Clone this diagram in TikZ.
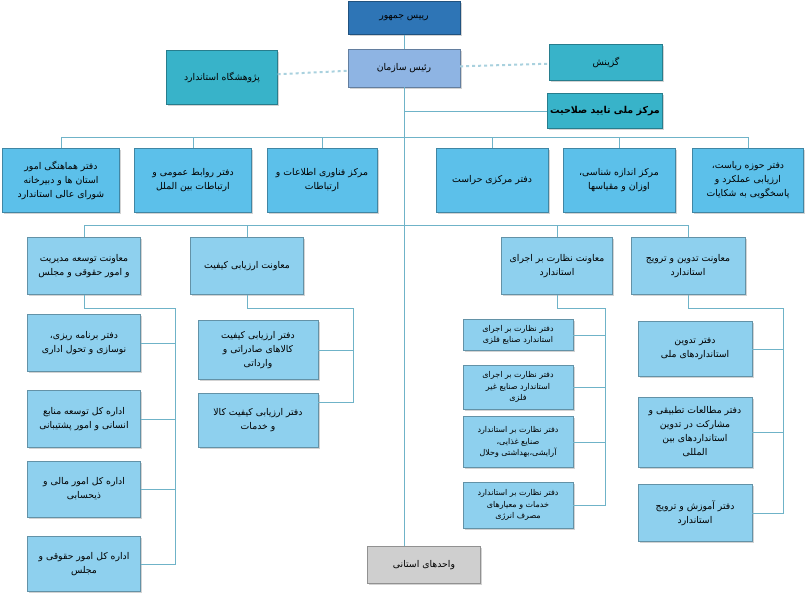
\documentclass[tikz,border=0pt]{standalone}
\usepackage{fontspec}
\newfontfamily\arabicfont[Script=Arabic]{DejaVu Sans}
\TeXXeTstate=1
\usetikzlibrary{positioning,shadows}
\newcommand{\fa}[1]{{\arabicfont\beginR #1\endR}}
\definecolor{topblue}{HTML}{2E75B6}
\definecolor{headblue}{HTML}{8EB4E3}
\definecolor{tealbox}{HTML}{38B3C9}
\definecolor{skybox}{HTML}{5CC0EA}
\definecolor{palebox}{HTML}{8ED0EE}
\definecolor{greybox}{HTML}{CFCFCF}
\definecolor{wirecol}{HTML}{6FB3C8}
\tikzset{
  box/.style={draw=#1!70!black, fill=#1, rectangle, align=center, inner sep=2pt,
    font=\fontsize{9.3}{14}\selectfont, drop shadow={opacity=0.35, shadow xshift=1.5pt, shadow yshift=-1.5pt}},
  small/.style={font=\fontsize{8}{11.5}\selectfont},
  wire/.style={draw=wirecol, line width=0.8pt},
}
\begin{document}
\begin{tikzpicture}[x=1pt,y=-1pt]
	\useasboundingbox (0,0) rectangle (805,611);
	% top of the chart
	\node[box=topblue, minimum width=112, minimum height=33] (pres) at (404,18) {\fa{رییس جمهور}};
	\node[box=headblue, minimum width=112, minimum height=38] (head) at (404,68) {\fa{رئیس سازمان}};
	\node[box=tealbox, minimum width=111, minimum height=54] (inst) at (222,77) {\fa{پژوهشگاه استاندارد}};
	\node[box=tealbox, minimum width=113, minimum height=36] (select) at (606,62) {\fa{گزینش}};
	\node[box=tealbox, minimum width=115, minimum height=35, font=\fontsize{9.5}{12}\selectfont\bfseries] (nac) at (605,111) {\fa{مرکز ملی تایید صلاحیت}};
	\node[box=greybox, minimum width=113, minimum height=37] (prov) at (424,565) {\fa{واحدهای استانی}};
	
	\draw[wire] (pres) -- (head);
	\draw[wirecol!60, line width=2pt, dashed] (inst) -- (head);
	\draw[wirecol!60, line width=2pt, dashed] (head) -- (select);
	\draw[wire] (head.south) -- (head.south |- prov.north);
	\draw[wire] (head.south |- nac.west) -- (nac.west);
	
	% offices under the head
	\node[box=skybox, minimum width=117, minimum height=64] (o1) at (61,180) {\fa{دفتر هماهنگی امور}\\\fa{استان ها و دبیرخانه}\\\fa{شورای عالی استاندارد}};
	\node[box=skybox, minimum width=117, minimum height=64] (o2) at (193,180) {\fa{دفتر روابط عمومی و}\\\fa{ارتباطات بین الملل}};
	\node[box=skybox, minimum width=110, minimum height=64] (o3) at (322,180) {\fa{مرکز فناوری اطلاعات و}\\\fa{ارتباطات}};
	\node[box=skybox, minimum width=112, minimum height=64] (o4) at (492,180) {\fa{دفتر مرکزی حراست}};
	\node[box=skybox, minimum width=112, minimum height=64] (o5) at (619,180) {\fa{مرکز اندازه شناسی،}\\\fa{اوزان و مقیاسها}};
	\node[box=skybox, minimum width=111, minimum height=64] (o6) at (748,180) {\fa{دفتر حوزه ریاست،}\\\fa{ارزیابی عملکرد و}\\\fa{پاسخگویی به شکایات}};
	\draw[wire] (o1.north) |- (o6.north |- 0,137) -- (o6.north);
	\foreach \n in {o2,o3,o4,o5}
		\draw[wire] (\n.north) -- (\n.north |- 0,137);
	
	% deputies
	\node[box=palebox, minimum width=113, minimum height=57] (d1) at (84,266) {\fa{معاونت توسعه مدیریت}\\\fa{و امور حقوقی و مجلس}};
	\node[box=palebox, minimum width=113, minimum height=57] (d2) at (247,266) {\fa{معاونت ارزیابی کیفیت}};
	\node[box=palebox, minimum width=111, minimum height=57] (d3) at (557,266) {\fa{معاونت نظارت بر اجرای}\\\fa{استاندارد}};
	\node[box=palebox, minimum width=114, minimum height=57] (d4) at (688,266) {\fa{معاونت تدوین و ترویج}\\\fa{استاندارد}};
	\draw[wire] (d1.north) |- (d4.north |- 0,225) -- (d4.north);
	\foreach \n in {d2,d3}
		\draw[wire] (\n.north) -- (\n.north |- 0,225);
	
	% management group
	\node[box=palebox, minimum width=113, minimum height=57] (m1) at (84,343) {\fa{دفتر برنامه ریزی،}\\\fa{نوسازی و تحول اداری}};
	\node[box=palebox, minimum width=113, minimum height=57] (m2) at (84,419) {\fa{اداره کل توسعه منابع}\\\fa{انسانی و امور پشتیبانی}};
	\node[box=palebox, minimum width=113, minimum height=56] (m3) at (84,489) {\fa{اداره کل امور مالی و}\\\fa{ذیحسابی}};
	\node[box=palebox, minimum width=113, minimum height=55] (m4) at (84,564) {\fa{اداره کل امور حقوقی و}\\\fa{مجلس}};
	\draw[wire] (d1.south) |- (175,308) |- (m4.east);
	\foreach \n in {m1,m2,m3}
		\draw[wire] (\n.east) -- (\n.east -| 175,0);
	
	% quality group
	\node[box=palebox, minimum width=120, minimum height=59] (q1) at (258,350) {\fa{دفتر ارزیابی کیفیت}\\\fa{کالاهای صادراتی و}\\\fa{وارداتی}};
	\node[box=palebox, minimum width=120, minimum height=54] (q2) at (258,420) {\fa{دفتر ارزیابی کیفیت کالا}\\\fa{و خدمات}};
	\draw[wire] (d2.south) |- (353,308) -- (353,402) -- (318,402);
	\draw[wire] (q1.east) -- (q1.east -| 353,0);
	
	% supervision group
	\node[box=palebox, small, minimum width=110, minimum height=31] (s1) at (518,335) {\fa{دفتر نظارت بر اجرای}\\\fa{استاندارد صنایع فلزی}};
	\node[box=palebox, small, minimum width=110, minimum height=44] (s2) at (518,387) {\fa{دفتر نظارت بر اجرای}\\\fa{استاندارد صنایع غیر}\\\fa{فلزی}};
	\node[box=palebox, small, minimum width=110, minimum height=51] (s3) at (518,442) {\fa{دفتر نظارت بر استاندارد}\\\fa{صنایع غذایی،}\\\fa{آرایشی،بهداشتی وحلال}};
	\node[box=palebox, small, minimum width=110, minimum height=46] (s4) at (518,505) {\fa{دفتر نظارت بر استاندارد}\\\fa{خدمات و معیارهای}\\\fa{مصرف انرژی}};
	\draw[wire] (d3.south) |- (605,308) |- (s4.east);
	\foreach \n in {s1,s2,s3}
		\draw[wire] (\n.east) -- (\n.east -| 605,0);
	
	% standards group
	\node[box=palebox, minimum width=114, minimum height=55] (t1) at (695,349) {\fa{دفتر تدوین}\\\fa{استانداردهای ملی}};
	\node[box=palebox, minimum width=114, minimum height=70] (t2) at (695,432) {\fa{دفتر مطالعات تطبیقی و}\\\fa{مشارکت در تدوین}\\\fa{استانداردهای بین}\\\fa{المللی}};
	\node[box=palebox, minimum width=114, minimum height=57] (t3) at (695,513) {\fa{دفتر آموزش و ترویج}\\\fa{استاندارد}};
	\draw[wire] (d4.south) |- (783,308) |- (t3.east);
	\foreach \n in {t1,t2}
		\draw[wire] (\n.east) -- (\n.east -| 783,0);
	
\end{tikzpicture}
\end{document}
